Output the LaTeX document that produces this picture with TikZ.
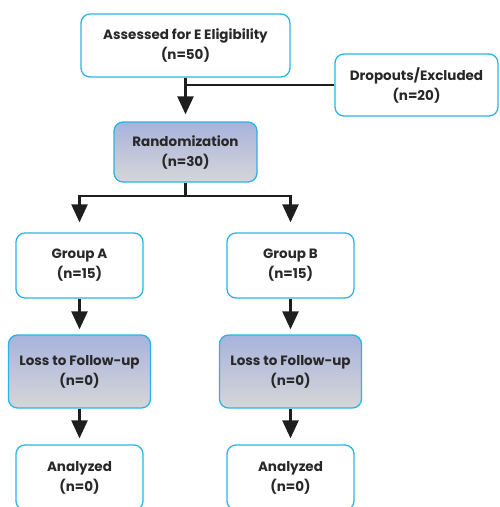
\documentclass[tikz,border=0pt]{standalone}
\usepackage{fontspec}
\setmainfont{Poppins}
\usetikzlibrary{arrows.meta,positioning}
\definecolor{bordc}{RGB}{40,180,232}
\definecolor{gradtop}{RGB}{167,179,220}
\definecolor{gradbot}{RGB}{214,214,216}
\definecolor{linec}{RGB}{30,30,30}
\definecolor{txtc}{RGB}{40,40,40}
\tikzset{
  box/.style={draw=bordc, line width=1.3pt, rounded corners=9pt, fill=white,
    align=center, inner sep=0pt, text=txtc, font=\fontsize{13.5}{20}\selectfont\bfseries},
  gbox/.style={box, top color=gradtop, bottom color=gradbot},
  conn/.style={draw=linec, line width=2.4pt},
  arr/.style={conn, -{Triangle[width=16pt,length=18pt]}, shorten >=7pt},
}
\begin{document}
\begin{tikzpicture}[x=1pt,y=-1pt]
\useasboundingbox (0,0) rectangle (500,507);
\clip (0,0) rectangle (500,507);
\node[box, minimum width=209pt, minimum height=63pt] (top) at (185.5,45.5) {Assessed for E Eligibility\\(n=50)};
\node[box, minimum width=163pt, minimum height=62pt] (drop) at (416.5,85) {Dropouts/Excluded\\(n=20)};
\node[gbox, minimum width=143pt, minimum height=60pt] (rand) at (185.5,152) {Randomization\\(n=30)};
\node[box, minimum width=127pt, minimum height=65pt] (ga) at (79.5,265.5) {Group A\\(n=15)};
\node[box, minimum width=127pt, minimum height=65pt] (gb) at (290.5,265.5) {Group B\\(n=15)};
\node[gbox, minimum width=142pt, minimum height=73pt] (la) at (79.5,371.5) {Loss to Follow-up\\(n=0)};
\node[gbox, minimum width=142pt, minimum height=73pt] (lb) at (290.5,371.5) {Loss to Follow-up\\(n=0)};
\node[box, minimum width=127pt, minimum height=65pt] (aa) at (79.5,477.5) {Analyzed\\(n=0)};
\node[box, minimum width=127pt, minimum height=65pt] (ab) at (290.5,477.5) {Analyzed\\(n=0)};
\coordinate (split) at (185.5,196);
\draw[arr] (top.south) -- (rand.north);
\draw[conn] (drop.west) -- (drop.west -| top.south);
\draw[conn] (rand.south) -- (split);
\draw[arr, shorten >=10pt] (split) -| (ga.north);
\draw[arr, shorten >=10pt] (split) -| (gb.north);
\draw[arr, shorten >=5pt] (ga.south) -- (la.north);
\draw[arr, shorten >=5pt] (gb.south) -- (lb.north);
\draw[arr, shorten >=6pt] (la.south) -- (aa.north);
\draw[arr, shorten >=6pt] (lb.south) -- (ab.north);
\end{tikzpicture}
\end{document}
